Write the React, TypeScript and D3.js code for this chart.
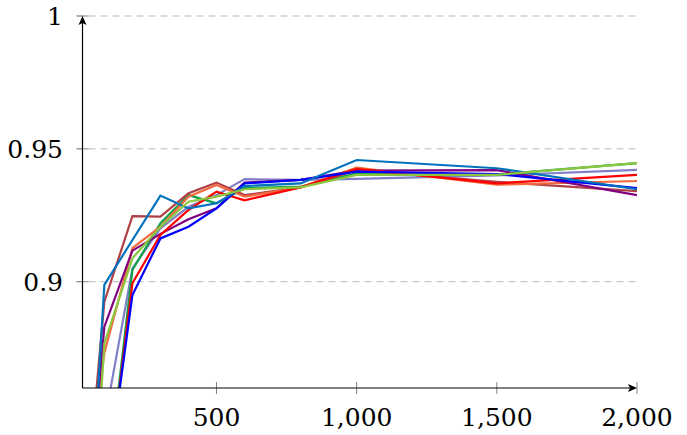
import React from 'react'
import * as d3 from 'd3'

const width = 687
const height = 435

const xs = [50, 100, 200, 300, 400, 500, 600, 800, 1000, 1500, 2000]

const blue = [0.75, 0.817, 0.895, 0.9163, 0.9207, 0.9276, 0.937, 0.9383, 0.9414, 0.9405, 0.9352]
const red = [0.75, 0.814, 0.8994, 0.9176, 0.927, 0.9339, 0.9306, 0.9355, 0.9425, 0.937, 0.9402]
const purple = [0.824, 0.8831, 0.9117, 0.918, 0.9235, 0.9276, 0.9373, 0.9383, 0.9418, 0.942, 0.9326]
const teal = [0.811, 0.8988, 0.9157, 0.9324, 0.9276, 0.9295, 0.936, 0.937, 0.9458, 0.9427, 0.9348]
const brown = [0.834, 0.8925, 0.9247, 0.9245, 0.9333, 0.9373, 0.9326, 0.9355, 0.942, 0.9376, 0.9341]
const orange = [0.832, 0.8732, 0.9126, 0.9207, 0.932, 0.9364, 0.932, 0.9355, 0.9429, 0.9365, 0.9379]
const green = [0.75, 0.814, 0.9044, 0.922, 0.9326, 0.9295, 0.9352, 0.9358, 0.9408, 0.9403, 0.9446]
const lightGreen = [0.793, 0.8768, 0.9088, 0.9207, 0.9301, 0.932, 0.9348, 0.9355, 0.9402, 0.9402, 0.9446]
const lavender = [0.77, 0.847, 0.905, 0.9201, 0.9282, 0.9326, 0.9386, 0.9383, 0.9387, 0.94, 0.9421]

const series = [
  { name: 'lavender', color: '#8080c8', values: lavender },
  { name: 'green', color: '#0fa04a', values: green },
  { name: 'brown', color: '#b04046', values: brown },
  { name: 'orange', color: '#f46a3e', values: orange },
  { name: 'purple', color: '#800080', values: purple },
  { name: 'red', color: '#ff0000', values: red },
  { name: 'blue', color: '#0000ff', values: blue },
  { name: 'teal', color: '#0072bd', values: teal },
  { name: 'lightGreen', color: '#8cc63f', values: lightGreen },
]

const yTicks = [0.9, 0.95, 1]
const yTickLabels = ['0.9', '0.95', '1']
const xTicks = [500, 1000, 1500, 2000]
const xTickLabels = ['500', '1,000', '1,500', '2,000']

const left = 82.5
const right = 637
const top = 16
const bottom = 388

const App = () => {
  const xScale = d3.scaleLinear().domain([22, 2000]).range([left, right])
  const yScale = d3.scaleLinear().domain([0.86, 1]).range([bottom, top])
  const line = d3
    .line<number>()
    .x((d, i) => xScale(xs[i]))
    .y(d => yScale(d))

  const font = 'DejaVu Serif, serif'

  return (
    <svg width={width} height={height} style={{ position: 'absolute', left: 0, top: 0 }}>
      <defs>
        <clipPath id="plot">
          <rect x={left} y={top} width={right - left} height={bottom - top} />
        </clipPath>
      </defs>
      <rect width={width} height={height} fill="#fff" />
      {yTicks.map(t => (
        <line
          key={'g' + t}
          x1={left - 6}
          x2={right}
          y1={yScale(t)}
          y2={yScale(t)}
          stroke="#b8b8b8"
          strokeWidth={1}
          strokeDasharray="7,5"
        />
      ))}
      <g clipPath="url(#plot)">
        {series.map(s => (
          <path
            key={s.name}
            d={line(s.values) || ''}
            fill="none"
            stroke={s.color}
            strokeWidth={2.2}
            strokeLinejoin="miter"
          />
        ))}
      </g>
      {yTicks.map(t => (
        <line
          key={'yt' + t}
          x1={left - 6}
          x2={left + 6}
          y1={yScale(t)}
          y2={yScale(t)}
          stroke="#808080"
          strokeWidth={1}
        />
      ))}
      {xTicks.map(t => (
        <line
          key={'xt' + t}
          x1={xScale(t)}
          x2={xScale(t)}
          y1={bottom - 6}
          y2={bottom + 6}
          stroke="#808080"
          strokeWidth={1}
        />
      ))}
      <line x1={left} x2={left} y1={bottom} y2={top + 2} stroke="#000" strokeWidth={1.2} />
      <line x1={left} x2={right - 2} y1={bottom} y2={bottom} stroke="#000" strokeWidth={1.2} />
      <path
        d={`M${left},${top} L${left - 4},${top + 9} L${left},${top + 7} L${left + 4},${top + 9} Z`}
        fill="#000"
      />
      <path
        d={`M${right},${bottom} L${right - 9},${bottom - 4} L${right - 7},${bottom} L${right - 9},${bottom + 4} Z`}
        fill="#000"
      />
      {yTicks.map((t, i) => (
        <text
          key={'yl' + t}
          x={63}
          y={yScale(t)}
          dy="0.36em"
          textAnchor="end"
          fontFamily={font}
          fontSize={25}
          fill="#000"
        >
          {yTickLabels[i]}
        </text>
      ))}
      {xTicks.map((t, i) => (
        <text
          key={'xl' + t}
          x={xScale(t)}
          y={426}
          textAnchor="middle"
          fontFamily={font}
          fontSize={25}
          fill="#000"
        >
          {xTickLabels[i]}
        </text>
      ))}
    </svg>
  )
}

export default App
